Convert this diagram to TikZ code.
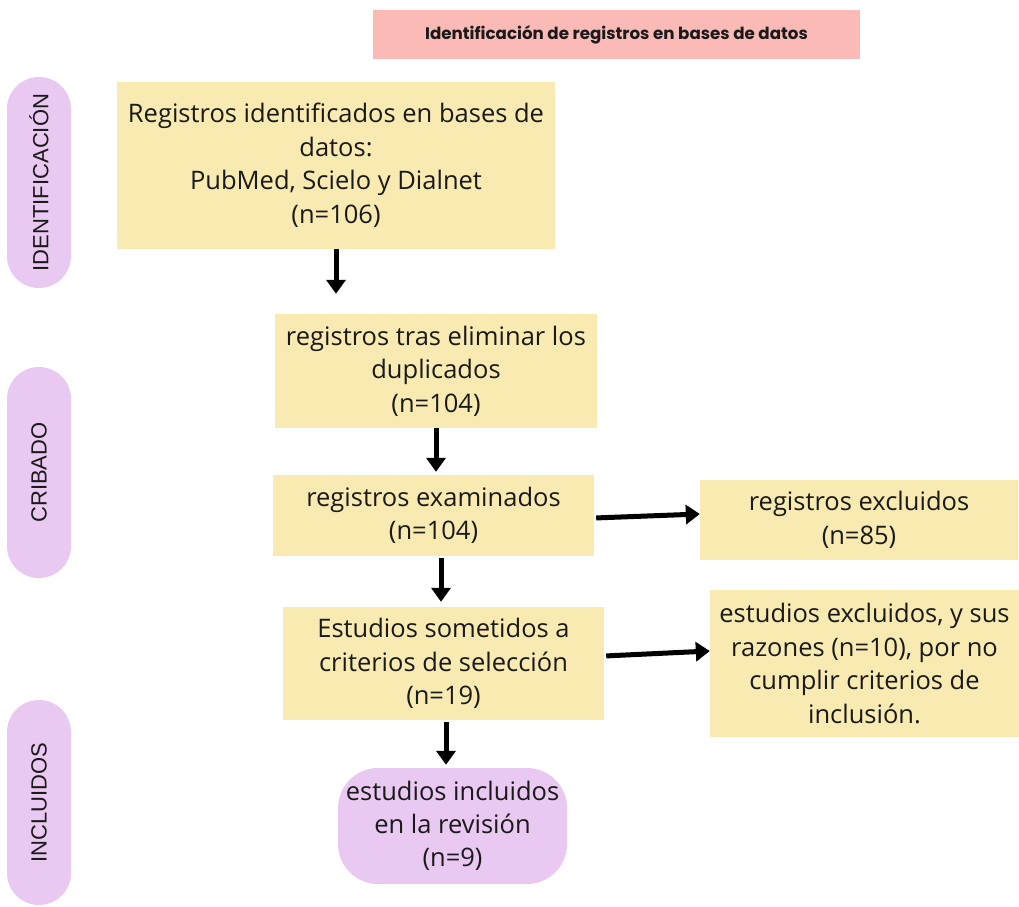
\documentclass[tikz,border=0pt]{standalone}
\usepackage{fontspec}
\setmainfont{Open Sans}
\newfontfamily\titlefont{Poppins}
\newfontfamily\sidefont{Liberation Sans}
\usetikzlibrary{arrows.meta}
\definecolor{boxyellow}{HTML}{F8EAB1}
\definecolor{titlepink}{HTML}{FBBAB5}
\definecolor{pillpurple}{HTML}{E9C8F2}
\definecolor{inktext}{HTML}{1A1A1A}
\tikzset{
  stagebox/.style={fill=boxyellow, draw=none, align=center, inner sep=0pt, text=inktext,
    font=\fontsize{25.5}{33.5}\selectfont},
  finalpill/.style={fill=pillpurple, draw=none, rounded corners=40pt, align=center, inner sep=0pt,
    text=inktext, font=\fontsize{25.5}{33}\selectfont},
  sidepill/.style={fill=pillpurple, draw=none, rounded corners=32pt, inner sep=0pt,
    minimum width=64pt},
  sidelabel/.style={rotate=90, text=inktext, font=\sidefont\fontsize{22}{24}\selectfont},
  titlebox/.style={fill=titlepink, draw=none, inner sep=0pt, text=inktext,
    font=\titlefont\bfseries\fontsize{16.7}{19}\selectfont},
  arr/.style={line width=5pt, draw=black, -{Triangle[width=19pt,length=14pt]}},
}
\begin{document}
\begin{tikzpicture}[x=1pt, y=-1pt]
\useasboundingbox (0,0) rectangle (1019,906);
% title
\node[titlebox, minimum width=487pt, minimum height=49pt] (title) at (616.5,34.5)
  {Identificación de registros en bases de datos};
% side pills
\node[sidepill, minimum height=211pt] (pident) at (39,182.5) {};
\node[sidepill, minimum height=211pt] (pcrib) at (39,472.5) {};
\node[sidepill, minimum height=205pt] (pincl) at (39,802.5) {};
\node[sidelabel] (lident) at (pident.center) {IDENTIFICACIÓN};
\node[sidelabel] (lcrib) at (pcrib.center) {CRIBADO};
\node[sidelabel] (lincl) at (pincl.center) {INCLUIDOS};
% boxes
\node[stagebox, minimum width=438pt, minimum height=167pt] (b1) at (336,165.5)
  {Registros identificados en bases de\\datos:\\PubMed, Scielo y Dialnet\\(n=106)};
\node[stagebox, minimum width=322pt, minimum height=114pt] (b2) at (436,371)
  {registros tras eliminar los\\duplicados\\(n=104)};
\node[stagebox, minimum width=321pt, minimum height=81pt] (b3) at (433.5,515.5)
  {registros examinados\\(n=104)};
\node[stagebox, minimum width=318pt, minimum height=80pt] (b4) at (859,520)
  {registros excluidos\\(n=85)};
\node[stagebox, minimum width=321pt, minimum height=113pt] (b5) at (443.5,663.5)
  {Estudios sometidos a\\criterios de selección\\(n=19)};
\node[stagebox, minimum width=309pt, minimum height=147pt] (b6) at (864.5,663.5)
  {estudios excluidos, y sus\\razones (n=10), por no\\cumplir criterios de\\inclusión.};
\node[finalpill, minimum width=229pt, minimum height=116pt] (fin) at (452.5,826)
  {estudios incluidos\\en la revisión\\(n=9)};
% arrows
\draw[arr, shorten >=20pt] (b1.south) -- (b1.south |- b2.north);
\draw[arr, shorten >=3pt] (b2.south) -- (b2.south |- b3.north);
\draw[arr, shorten <=2pt, shorten >=5pt] ([xshift=7.5pt]b3.south) -- ([xshift=7.5pt]b3.south |- b5.north);
\draw[arr, shorten <=2pt, shorten >=3pt] ([xshift=2.5pt]b5.south) -- ([xshift=2.5pt]b5.south |- fin.north);
\draw[arr, shorten <=2pt] ([yshift=-2.5pt]b3.east) -- ([yshift=6pt]b4.west);
\draw[arr, shorten <=2pt] ([yshift=7.5pt]b5.east) -- ([yshift=12.5pt]b6.west);
\end{tikzpicture}
\end{document}
